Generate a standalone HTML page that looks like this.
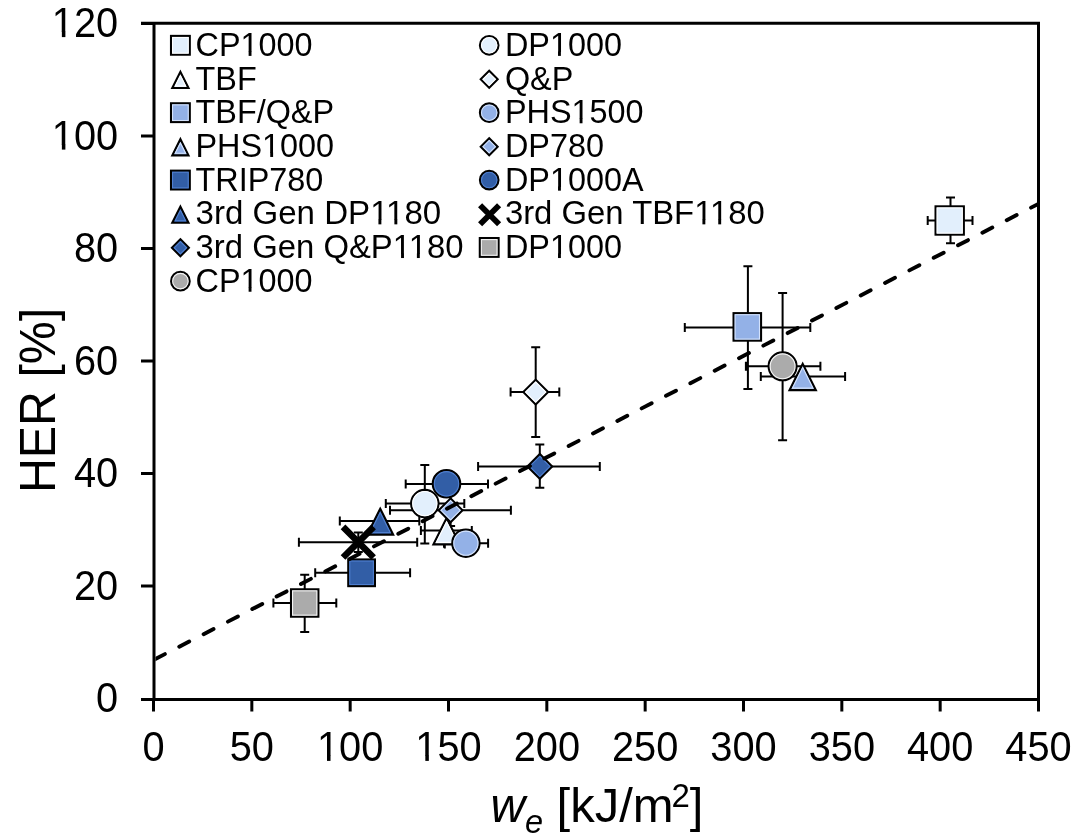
<!DOCTYPE html>
<html><head><meta charset="utf-8"><style>
html,body{margin:0;padding:0;background:#fff;}
body{width:1085px;height:838px;overflow:hidden;font-family:"Liberation Sans", sans-serif;}
svg{display:block;will-change:transform;}
</style></head><body>
<svg width="1085" height="838" viewBox="0 0 1085 838"><rect width="1085" height="838" fill="#fff"/><path d="M141,23.2H1038.5V699.5M154,23.2V699.5H141M1038.5,23.2V711.5M141,699.6H1038.5M141,586.10H154M141,473.60H154M141,361.10H154M141,248.60H154M141,136.10H154M141,23.60H154M153.50,699.5V711.5M251.83,699.5V711.5M350.17,699.5V711.5M448.50,699.5V711.5M546.83,699.5V711.5M645.17,699.5V711.5M743.50,699.5V711.5M841.83,699.5V711.5M940.17,699.5V711.5M1038.50,699.5V711.5" stroke="#000" stroke-width="3" fill="none" stroke-linecap="butt"/><g font-family="Liberation Sans, sans-serif" font-size="41" fill="#000"><text transform="translate(118.2,712.10) scale(0.97,1.035)" text-anchor="end">0</text><text transform="translate(118.2,599.60) scale(0.97,1.035)" text-anchor="end">20</text><text transform="translate(118.2,487.10) scale(0.97,1.035)" text-anchor="end">40</text><text transform="translate(118.2,374.60) scale(0.97,1.035)" text-anchor="end">60</text><text transform="translate(118.2,262.10) scale(0.97,1.035)" text-anchor="end">80</text><text transform="translate(118.2,149.60) scale(0.97,1.035)" text-anchor="end">100</text><text transform="translate(118.2,37.10) scale(0.97,1.035)" text-anchor="end">120</text><text transform="translate(153.50,760.9) scale(0.97,1.05)" text-anchor="middle">0</text><text transform="translate(251.83,760.9) scale(0.97,1.05)" text-anchor="middle">50</text><text transform="translate(350.17,760.9) scale(0.97,1.05)" text-anchor="middle">100</text><text transform="translate(448.50,760.9) scale(0.97,1.05)" text-anchor="middle">150</text><text transform="translate(546.83,760.9) scale(0.97,1.05)" text-anchor="middle">200</text><text transform="translate(645.17,760.9) scale(0.97,1.05)" text-anchor="middle">250</text><text transform="translate(743.50,760.9) scale(0.97,1.05)" text-anchor="middle">300</text><text transform="translate(841.83,760.9) scale(0.97,1.05)" text-anchor="middle">350</text><text transform="translate(940.17,760.9) scale(0.97,1.05)" text-anchor="middle">400</text><text transform="translate(1038.50,760.9) scale(0.97,1.05)" text-anchor="middle">450</text></g><text transform="translate(55.2,400.4) rotate(-90) scale(0.987,1.025)" text-anchor="middle" font-family="Liberation Sans, sans-serif" font-size="49">HER [%]</text><g font-family="Liberation Sans, sans-serif" fill="#000"><text x="490.6" y="821.6" font-size="48" font-style="italic">w</text><text x="525.0" y="833.2" font-size="32.5" font-style="italic">e</text><text x="556.6" y="821.8" font-size="49">[kJ/m</text><text x="671.4" y="806.9" font-size="33">2</text><text x="689.8" y="821.8" font-size="49">]</text></g><path d="M927.70,220.50H972.50M927.70,216.00V225.00M972.50,216.00V225.00M950.50,197.40V243.20M946.00,197.40H955.00M946.00,243.20H955.00M684.80,327.50H810.30M684.80,323.00V332.00M810.30,323.00V332.00M747.90,266.20V388.90M743.40,266.20H752.40M743.40,388.90H752.40M745.90,366.30H820.40M745.90,361.80V370.80M820.40,361.80V370.80M782.60,293.00V440.20M778.10,293.00H787.10M778.10,440.20H787.10M760.80,376.40H845.10M760.80,371.90V380.90M845.10,371.90V380.90M510.60,392.10H559.30M510.60,387.60V396.60M559.30,387.60V396.60M535.70,347.20V437.10M531.20,347.20H540.20M531.20,437.10H540.20M478.10,466.40H599.80M478.10,461.90V470.90M599.80,461.90V470.90M539.80,444.60V487.80M535.30,444.60H544.30M535.30,487.80H544.30M420.90,530.60H471.80M420.90,526.10V535.10M471.80,526.10V535.10M385.80,503.60H464.30M385.80,499.10V508.10M464.30,499.10V508.10M424.80,465.00V543.40M420.30,465.00H429.30M420.30,543.40H429.30M390.00,510.30H510.90M390.00,505.80V514.80M510.90,505.80V514.80M450.60,494.60V526.00M446.10,494.60H455.10M446.10,526.00H455.10M405.70,483.90H488.00M405.70,479.40V488.40M488.00,479.40V488.40M444.00,543.20H488.10M444.00,538.70V547.70M488.10,538.70V547.70M339.80,521.10H419.30M339.80,516.60V525.60M419.30,516.60V525.60M315.20,572.80H410.10M315.20,568.30V577.30M410.10,568.30V577.30M298.90,542.20H417.20M298.90,537.70V546.70M417.20,537.70V546.70M358.30,532.60V552.00M353.80,532.60H362.80M353.80,552.00H362.80M273.40,603.00H336.30M273.40,598.50V607.50M336.30,598.50V607.50M304.70,574.80V632.00M300.20,574.80H309.20M300.20,632.00H309.20M444.8,540V548.6" stroke="#000" stroke-width="2" fill="none"/><rect x="935.60" y="206.40" width="28.20" height="28.20" fill="#E2EFFC" stroke="#000" stroke-width="2.2"/><rect x="937.10" y="207.90" width="25.20" height="25.20" fill="none" stroke="#FFFFFF" stroke-width="1.1"/><rect x="733.60" y="313.20" width="27.40" height="27.40" fill="#93B1E7" stroke="#000" stroke-width="2.2"/><rect x="735.10" y="314.70" width="24.40" height="24.40" fill="none" stroke="#D3E2FC" stroke-width="1.1"/><circle cx="782.60" cy="366.30" r="13.95" fill="#ABABAB" stroke="#000" stroke-width="2.2"/><circle cx="782.60" cy="366.30" r="12.45" fill="none" stroke="#F4F4F4" stroke-width="1.1"/><polygon points="802.70,363.96 815.82,390.20 789.58,390.20" fill="#93B1E7" stroke="#000" stroke-width="2.2"/><polygon points="802.70,367.51 813.02,388.15 792.38,388.15" fill="none" stroke="#D3E2FC" stroke-width="1.1"/><polygon points="535.70,379.80 548.00,392.10 535.70,404.40 523.40,392.10" fill="#E2EFFC" stroke="#000" stroke-width="2.2"/><polygon points="535.70,381.95 545.85,392.10 535.70,402.25 525.55,392.10" fill="none" stroke="#FFFFFF" stroke-width="1.1"/><polygon points="539.80,454.10 552.10,466.40 539.80,478.70 527.50,466.40" fill="#325EA6" stroke="#000" stroke-width="2.2"/><polygon points="539.80,456.25 549.95,466.40 539.80,476.55 529.65,466.40" fill="none" stroke="#4F7FCF" stroke-width="1.1"/><polygon points="446.60,518.16 459.72,544.40 433.48,544.40" fill="#E2EFFC" stroke="#000" stroke-width="2.2"/><polygon points="446.60,521.71 456.92,542.35 436.28,542.35" fill="none" stroke="#FFFFFF" stroke-width="1.1"/><circle cx="424.80" cy="503.60" r="13.65" fill="#E2EFFC" stroke="#000" stroke-width="2.2"/><circle cx="424.80" cy="503.60" r="12.15" fill="none" stroke="#FFFFFF" stroke-width="1.1"/><polygon points="450.60,498.50 462.40,510.30 450.60,522.10 438.80,510.30" fill="#93B1E7" stroke="#000" stroke-width="2.2"/><polygon points="450.60,500.65 460.25,510.30 450.60,519.95 440.95,510.30" fill="none" stroke="#D3E2FC" stroke-width="1.1"/><circle cx="446.50" cy="483.80" r="13.70" fill="#325EA6" stroke="#000" stroke-width="2.2"/><circle cx="446.50" cy="483.80" r="12.20" fill="none" stroke="#4F7FCF" stroke-width="1.1"/><circle cx="465.90" cy="543.20" r="13.60" fill="#93B1E7" stroke="#000" stroke-width="2.2"/><circle cx="465.90" cy="543.20" r="12.10" fill="none" stroke="#D3E2FC" stroke-width="1.1"/><polygon points="380.20,508.86 393.12,534.70 367.28,534.70" fill="#325EA6" stroke="#000" stroke-width="2.2"/><polygon points="380.20,512.41 390.32,532.65 370.08,532.65" fill="none" stroke="#4F7FCF" stroke-width="1.1"/><rect x="348.30" y="559.50" width="26.60" height="26.60" fill="#325EA6" stroke="#000" stroke-width="2.2"/><rect x="349.80" y="561.00" width="23.60" height="23.60" fill="none" stroke="#4F7FCF" stroke-width="1.1"/><path d="M343.03,526.93 L373.57,557.47 M373.57,526.93 L343.03,557.47" stroke="#000" stroke-width="6.60" fill="none"/><rect x="291.05" y="589.35" width="27.30" height="27.30" fill="#ABABAB" stroke="#000" stroke-width="2.2"/><rect x="292.55" y="590.85" width="24.30" height="24.30" fill="none" stroke="#F4F4F4" stroke-width="1.1"/><clipPath id="pc"><rect x="155.5" y="24.7" width="881.5" height="673.3"/></clipPath><line x1="153.5" y1="660" x2="1038.5" y2="203.8" stroke="#000" stroke-width="3.9" stroke-dasharray="11.2 16.18" stroke-dashoffset="-1.6" stroke-linecap="round" clip-path="url(#pc)"/><rect x="171.05" y="35.95" width="18.70" height="18.70" fill="#E2EFFC" stroke="#000" stroke-width="2.2"/><rect x="172.55" y="37.45" width="15.70" height="15.70" fill="none" stroke="#FFFFFF" stroke-width="1.1"/><polygon points="180.40,71.95 188.42,87.99 172.38,87.99" fill="#E2EFFC" stroke="#000" stroke-width="2.2"/><polygon points="180.40,75.50 185.62,85.94 175.18,85.94" fill="none" stroke="#FFFFFF" stroke-width="1.1"/><rect x="171.05" y="103.33" width="18.70" height="18.70" fill="#93B1E7" stroke="#000" stroke-width="2.2"/><rect x="172.55" y="104.83" width="15.70" height="15.70" fill="none" stroke="#D3E2FC" stroke-width="1.1"/><polygon points="180.40,139.33 188.42,155.37 172.38,155.37" fill="#93B1E7" stroke="#000" stroke-width="2.2"/><polygon points="180.40,142.88 185.62,153.32 175.18,153.32" fill="none" stroke="#D3E2FC" stroke-width="1.1"/><rect x="171.05" y="170.71" width="18.70" height="18.70" fill="#325EA6" stroke="#000" stroke-width="2.2"/><rect x="172.55" y="172.21" width="15.70" height="15.70" fill="none" stroke="#4F7FCF" stroke-width="1.1"/><polygon points="180.40,206.71 188.42,222.75 172.38,222.75" fill="#325EA6" stroke="#000" stroke-width="2.2"/><polygon points="180.40,210.26 185.62,220.70 175.18,220.70" fill="none" stroke="#4F7FCF" stroke-width="1.1"/><polygon points="180.40,239.34 188.80,247.74 180.40,256.14 172.00,247.74" fill="#325EA6" stroke="#000" stroke-width="2.2"/><polygon points="180.40,241.49 186.65,247.74 180.40,253.99 174.15,247.74" fill="none" stroke="#4F7FCF" stroke-width="1.1"/><circle cx="180.40" cy="281.13" r="9.25" fill="#ABABAB" stroke="#000" stroke-width="2.2"/><circle cx="180.40" cy="281.13" r="7.75" fill="none" stroke="#F4F4F4" stroke-width="1.1"/><circle cx="489.20" cy="45.30" r="9.25" fill="#E2EFFC" stroke="#000" stroke-width="2.2"/><circle cx="489.20" cy="45.30" r="7.75" fill="none" stroke="#FFFFFF" stroke-width="1.1"/><polygon points="489.20,70.89 497.60,79.29 489.20,87.69 480.80,79.29" fill="#E2EFFC" stroke="#000" stroke-width="2.2"/><polygon points="489.20,73.04 495.45,79.29 489.20,85.54 482.95,79.29" fill="none" stroke="#FFFFFF" stroke-width="1.1"/><circle cx="489.20" cy="112.68" r="9.25" fill="#93B1E7" stroke="#000" stroke-width="2.2"/><circle cx="489.20" cy="112.68" r="7.75" fill="none" stroke="#D3E2FC" stroke-width="1.1"/><polygon points="489.20,138.27 497.60,146.67 489.20,155.07 480.80,146.67" fill="#93B1E7" stroke="#000" stroke-width="2.2"/><polygon points="489.20,140.42 495.45,146.67 489.20,152.92 482.95,146.67" fill="none" stroke="#D3E2FC" stroke-width="1.1"/><circle cx="489.20" cy="180.06" r="9.25" fill="#325EA6" stroke="#000" stroke-width="2.2"/><circle cx="489.20" cy="180.06" r="7.75" fill="none" stroke="#4F7FCF" stroke-width="1.1"/><path d="M480.10,205.25 L499.10,224.25 M499.10,205.25 L480.10,224.25" stroke="#000" stroke-width="5.80" fill="none"/><rect x="479.85" y="238.09" width="18.70" height="18.70" fill="#ABABAB" stroke="#000" stroke-width="2.2"/><rect x="481.35" y="239.59" width="15.70" height="15.70" fill="none" stroke="#F4F4F4" stroke-width="1.1"/><g font-family="Liberation Sans, sans-serif" font-size="32.4" fill="#000"><text transform="translate(195.5,55.90) scale(1.0,1.03)">CP1000</text><text transform="translate(195.5,89.59) scale(1.0,1.03)">TBF</text><text transform="translate(195.5,123.28) scale(1.0,1.03)">TBF/Q&amp;P</text><text transform="translate(195.5,156.97) scale(1.0,1.03)">PHS1000</text><text transform="translate(195.5,190.66) scale(1.0,1.03)">TRIP780</text><text transform="translate(195.5,224.35) scale(1.021,1.03)">3rd Gen DP1180</text><text transform="translate(195.5,258.04) scale(1.015,1.03)">3rd Gen Q&amp;P1180</text><text transform="translate(195.5,291.73) scale(1.0,1.03)">CP1000</text><text transform="translate(504.9,55.90) scale(1.0,1.03)">DP1000</text><text transform="translate(504.9,89.59) scale(1.0,1.03)">Q&amp;P</text><text transform="translate(504.9,123.28) scale(1.0,1.03)">PHS1500</text><text transform="translate(504.9,156.97) scale(1.0,1.03)">DP780</text><text transform="translate(504.9,190.66) scale(1.0,1.03)">DP1000A</text><text transform="translate(504.9,224.35) scale(1.014,1.03)">3rd Gen TBF1180</text><text transform="translate(504.9,258.04) scale(1.0,1.03)">DP1000</text></g><g fill="#fff"><rect x="53" y="145" width="21" height="7"/><rect x="53" y="32" width="21" height="7"/><rect x="318" y="756" width="21" height="7"/><rect x="416" y="756" width="21" height="7"/><rect x="241" y="52" width="18" height="6"/><rect x="263" y="153" width="17" height="6"/><rect x="371" y="220" width="18" height="6"/><rect x="387" y="220" width="18" height="6"/><rect x="393" y="254" width="18" height="6"/><rect x="409" y="254" width="18" height="6"/><rect x="241" y="288" width="18" height="6"/><rect x="551" y="52" width="17" height="6"/><rect x="572" y="119" width="18" height="6"/><rect x="551" y="187" width="17" height="6"/><rect x="695" y="220" width="18" height="6"/><rect x="711" y="220" width="17" height="6"/><rect x="551" y="254" width="17" height="6"/></g><g fill="#000"><rect x="61.866" y="144.5" width="3.515" height="5.100"/><rect x="61.866" y="31.5" width="3.515" height="5.600"/><rect x="326.996" y="755.5" width="3.515" height="5.400"/><rect x="425.326" y="755.5" width="3.515" height="5.400"/><rect x="248.624" y="51.5" width="2.863" height="4.400"/><rect x="270.235" y="152.5" width="2.863" height="4.470"/><rect x="378.438" y="219.5" width="2.924" height="4.850"/><rect x="394.383" y="219.5" width="2.924" height="4.850"/><rect x="401.057" y="253.5" width="2.906" height="4.540"/><rect x="416.892" y="253.5" width="2.906" height="4.540"/><rect x="248.624" y="287.5" width="2.863" height="4.230"/><rect x="558.024" y="51.5" width="2.863" height="4.400"/><rect x="579.635" y="118.5" width="2.863" height="4.780"/><rect x="558.024" y="186.5" width="2.863" height="4.160"/><rect x="702.428" y="219.5" width="2.904" height="4.850"/><rect x="718.256" y="219.5" width="2.904" height="4.850"/><rect x="558.024" y="253.5" width="2.863" height="4.540"/></g></svg>
</body></html>
